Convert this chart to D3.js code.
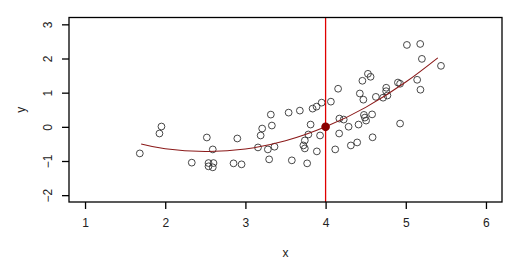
<!DOCTYPE html>
<html>
<head>
<meta charset="utf-8">
<script src="https://cdn.jsdelivr.net/npm/d3@7"></script>
<style>
  body { margin: 0; background: #fff; }
  text { font-family: "Liberation Sans", Arial, sans-serif; }
</style>
</head>
<body>
<div id="chart"></div>
<script>
// scatter points
var xs = [1.683, 1.928, 1.953, 2.331, 2.519, 2.593, 2.540, 2.540, 2.602, 2.593,
          2.852, 2.952, 2.899, 3.157, 3.190, 3.209, 3.317, 3.330, 3.280, 3.363,
          3.296, 3.539, 3.579, 3.679, 3.838, 3.887, 3.951, 4.066, 4.156, 4.172,
          4.226, 4.169, 4.287, 4.411, 4.315, 4.394, 4.120, 3.931, 3.891, 3.813,
          3.785, 3.741, 3.723, 3.741, 3.770, 4.427, 4.459, 4.528, 4.561, 4.471,
          4.478, 4.490, 4.505, 4.580, 4.586, 4.627, 4.717, 4.756, 4.755, 4.771,
          4.902, 4.929, 4.929, 5.014, 5.180, 5.201, 5.439, 5.142, 5.183];
var ys = [-0.778, -0.195, 0.009, -1.048, -0.312, -0.661, -1.060, -1.156, -1.060, -1.185,
          -1.069, -1.098, -0.341, -0.603, -0.253, -0.050, 0.358, 0.038, -0.661, -0.582,
          -0.952, 0.416, -0.981, 0.475, 0.533, 0.591, 0.708, 0.737, 1.115, 0.242,
          0.213, -0.195, 0.003, 0.067, -0.545, -0.457, -0.661, -0.253, -0.719, 0.067,
          -0.224, -0.399, -0.545, -0.632, -1.069, 0.976, 1.348, 1.552, 1.465, 0.795,
          0.349, 0.271, 0.183, 0.364, -0.306, 0.877, 0.853, 1.144, 1.043, 0.917,
          1.296, 1.261, 0.096, 2.397, 2.426, 1.989, 1.785, 1.377, 1.086];

// fitted curve
var curveX = [1.7, 2.0, 2.5, 3.0, 3.5, 4.0, 4.5, 5.0, 5.4];
var curveY = [-0.50, -0.64, -0.72, -0.65, -0.41, 0.00, 0.57, 1.31, 2.02];

// highlighted point and vertical marker
var markX = 4;
var markY = 0;

var xTicks = [1, 2, 3, 4, 5, 6];
var yTicks = [-2, -1, 0, 1, 2, 3];

var w = 524, h = 272;
var padLeft = 69, padRight = 502, padTop = 17.5, padBottom = 202;

var svg = d3.select("#chart").append("svg")
    .attr("width", w)
    .attr("height", h);

var xScale = d3.scaleLinear().domain([0.8, 6.2]).range([padLeft, padRight]);
var yScale = d3.scaleLinear().domain([-2.2, 3.2]).range([padBottom, padTop]);

// x axis
var xAxis = d3.axisBottom(xScale).tickValues(xTicks).tickSize(7).tickPadding(9)
    .tickFormat(d3.format("d"));
var gx = svg.append("g").attr("transform", "translate(0," + padBottom + ")").call(xAxis);
gx.select(".domain").remove();
gx.selectAll("line").attr("stroke", "#000").attr("stroke-width", 1.3);
gx.selectAll("text").attr("font-size", 12).attr("fill", "#222")
    .attr("font-family", "'Liberation Sans', Arial, sans-serif");

// y axis, labels rotated like R's default
var yAxis = d3.axisLeft(yScale).tickValues(yTicks).tickSize(7)
    .tickFormat(d3.format("d"));
var gy = svg.append("g").attr("transform", "translate(" + padLeft + ",0)").call(yAxis);
gy.select(".domain").remove();
gy.selectAll("line").attr("stroke", "#000").attr("stroke-width", 1.3);
gy.selectAll("text")
    .attr("font-size", 12).attr("fill", "#222")
    .attr("font-family", "'Liberation Sans', Arial, sans-serif")
    .attr("text-anchor", "middle")
    .attr("x", 0).attr("y", -17).attr("dy", 0)
    .attr("transform", "rotate(-90)");

// axis titles
svg.append("text").attr("x", (padLeft + padRight) / 2).attr("y", 257)
    .attr("text-anchor", "middle").attr("font-size", 12).attr("fill", "#222").text("x");
svg.append("text").attr("transform", "translate(25," + ((padTop + padBottom) / 2) + ") rotate(-90)")
    .attr("text-anchor", "middle").attr("font-size", 12).attr("fill", "#222").text("y");

// points
svg.append("g").selectAll("circle")
    .data(d3.range(xs.length))
    .enter()
    .append("circle")
        .attr("cx", function(i) { return xScale(xs[i]); })
        .attr("cy", function(i) { return yScale(ys[i]); })
        .attr("r", 3.4)
        .attr("fill", "none")
        .attr("stroke", "#333")
        .attr("stroke-width", 0.9);

// curve
var line = d3.line()
    .x(function(i) { return xScale(curveX[i]); })
    .y(function(i) { return yScale(curveY[i]); })
    .curve(d3.curveNatural);
svg.append("path")
    .attr("d", line(d3.range(curveX.length)))
    .attr("fill", "none")
    .attr("stroke", "#8b1a1a")
    .attr("stroke-width", 1.1);

// vertical line
svg.append("line")
    .attr("x1", xScale(markX)).attr("x2", xScale(markX))
    .attr("y1", padTop).attr("y2", padBottom)
    .attr("stroke", "#e00000")
    .attr("stroke-width", 1.3);

// highlighted point
svg.append("circle")
    .attr("cx", xScale(markX)).attr("cy", yScale(markY))
    .attr("r", 4.3)
    .attr("fill", "#8b0000");

// box
svg.append("rect")
    .attr("x", padLeft).attr("y", padTop)
    .attr("width", padRight - padLeft).attr("height", padBottom - padTop)
    .attr("fill", "none").attr("stroke", "#000").attr("stroke-width", 1.3);
</script>
</body>
</html>
